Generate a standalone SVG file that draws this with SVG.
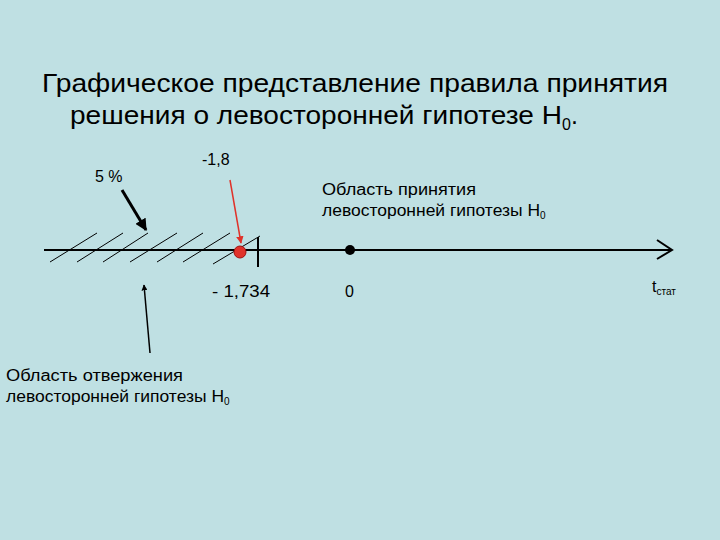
<svg xmlns="http://www.w3.org/2000/svg" width="720" height="540" viewBox="0 0 720 540">
<style>
text{font-family:"Liberation Sans",Arial,sans-serif;fill:#000}
.t{font-size:25px}.s{font-size:16px}
.h{stroke:#000;stroke-width:1}
</style>
<defs>
<marker id="ab" viewBox="0 0 10 10" refX="9" refY="5" markerWidth="4" markerHeight="4" orient="auto"><path d="M0,0L10,5L0,10z" fill="#000"/></marker>
<marker id="ar" viewBox="0 0 10 10" refX="9" refY="5" markerWidth="5" markerHeight="5" orient="auto"><path d="M0,0L10,5L0,10z" fill="#e0322a"/></marker>
</defs>
<rect width="720" height="540" fill="#bfe0e3"/>
<text class="t" x="42" y="92" textLength="626" lengthAdjust="spacingAndGlyphs">Графическое представление правила принятия</text>
<text class="t" y="124"><tspan x="70" textLength="492" lengthAdjust="spacingAndGlyphs">решения о левосторонней гипотезе H</tspan><tspan font-size="16" dy="6">0</tspan><tspan dy="-6">.</tspan></text>
<g id="connectors">
<line x1="44" y1="250" x2="672" y2="250" stroke="#000" stroke-width="2"/>
<polyline points="657,240 672,250 657,259" fill="none" stroke="#000" stroke-width="2"/>
<line x1="258" y1="237" x2="258" y2="267" stroke="#000" stroke-width="2"/>
<g class="h">
<line x1="50" y1="262" x2="97" y2="233"/><line x1="77" y1="262" x2="123" y2="233"/>
<line x1="103" y1="262" x2="148" y2="233"/><line x1="130" y1="262" x2="177" y2="233"/>
<line x1="157" y1="262" x2="203" y2="233"/><line x1="183" y1="262" x2="230" y2="233"/>
<line x1="213" y1="264" x2="260" y2="236"/>
</g>
<line x1="122" y1="190" x2="146" y2="230" stroke="#000" stroke-width="3" marker-end="url(#ab)"/>
<line x1="230" y1="180" x2="241" y2="243" stroke="#e0322a" stroke-width="1.5" marker-end="url(#ar)"/>
<line x1="150" y1="353" x2="144" y2="285" stroke="#000" stroke-width="1.5" marker-end="url(#ab)"/>
</g>
<g id="crit"><circle cx="240" cy="252" r="6" fill="#e0322a" stroke="#a01010"/></g>
<g id="zero"><circle cx="350" cy="250" r="5" fill="#000"/></g>
<text class="s" x="95" y="182">5 %</text>
<text class="s" x="202" y="165">-1,8</text>
<text class="s" x="212" y="297" textLength="58" lengthAdjust="spacingAndGlyphs">- 1,734</text>
<text class="s" x="345" y="297">0</text>
<text class="s" x="652" y="292">t<tspan font-size="10" dy="3">стат</tspan></text>
<text class="s" x="322" y="195" textLength="154" lengthAdjust="spacingAndGlyphs">Область принятия</text>
<text class="s" y="216"><tspan x="322" textLength="218" lengthAdjust="spacingAndGlyphs">левосторонней гипотезы H</tspan><tspan font-size="10" dy="3">0</tspan></text>
<text class="s" x="6" y="381" textLength="177" lengthAdjust="spacingAndGlyphs">Область отвержения</text>
<text class="s" y="402"><tspan x="6" textLength="218" lengthAdjust="spacingAndGlyphs">левосторонней гипотезы H</tspan><tspan font-size="10" dy="3">0</tspan></text>
</svg>
